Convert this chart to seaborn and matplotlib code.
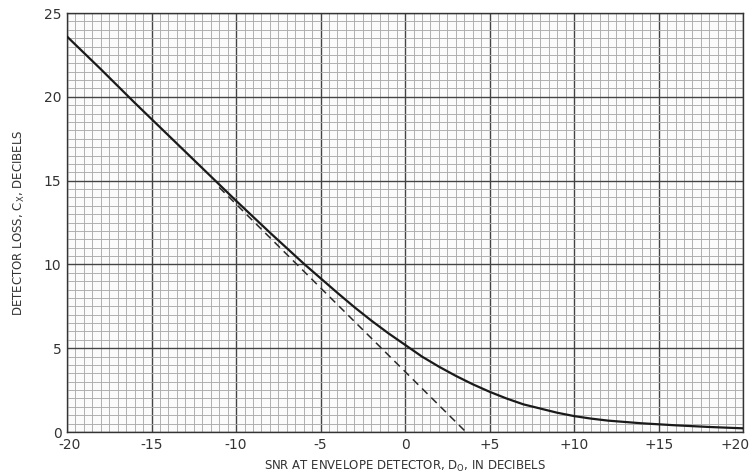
import matplotlib
matplotlib.use("Agg")
import matplotlib.pyplot as plt
import matplotlib.transforms as mtransforms
import seaborn as sns
import pandas as pd
from matplotlib.ticker import MultipleLocator

# Values
snr_db = [-20, -18, -16, -14, -12, -10, -8, -6, -4, -3, -2, -1, 0, 1, 2, 3, 4, 5,
          6, 7, 8, 9, 10, 11, 12, 13, 14, 15, 16, 18, 20]
loss_db = [23.6, 21.65, 19.65, 17.7, 15.75, 13.8, 11.9, 10.05, 8.3, 7.45, 6.65, 5.9,
           5.2, 4.5, 3.9, 3.35, 2.85, 2.4, 2.0, 1.65, 1.4, 1.15, 0.95, 0.8, 0.68,
           0.6, 0.52, 0.46, 0.4, 0.3, 0.22]
asym_snr = [-11.0, 3.6]
asym_loss = [14.6, 0.0]

x_ticks = [-20, -15, -10, -5, 0, 5, 10, 15, 20]
x_labels = ["-20", "-15", "-10", "-5", "0", "+5", "+10", "+15", "+20"]
y_ticks = [0, 5, 10, 15, 20, 25]
y_labels = ["0", "5", "10", "15", "20", "25"]

sns.set_theme(style="white")
plt.rcParams['font.family'] = ['DejaVu Sans']

fig = plt.figure(figsize=(7.53, 4.75), dpi=100)
ax = fig.add_axes([0.089, 0.0905, 0.898, 0.882])

df = pd.DataFrame({"snr": snr_db, "loss": loss_db})
dfa = pd.DataFrame({"snr": asym_snr, "loss": asym_loss})
sns.lineplot(data=df, x="snr", y="loss", ax=ax, color="#1a1a1a", linewidth=1.6, zorder=5)
sns.lineplot(data=dfa, x="snr", y="loss", ax=ax, color="#2a2a2a", linewidth=1.1,
             linestyle=(0, (5, 3.5)), zorder=5)

ax.set_xlim(-20, 20)
ax.set_ylim(0, 25)
ax.set_xticks(x_ticks)
ax.set_xticklabels(x_labels)
ax.set_yticks(y_ticks)
ax.set_yticklabels(y_labels)
ax.xaxis.set_minor_locator(MultipleLocator(0.5))
ax.yaxis.set_minor_locator(MultipleLocator(0.5))
ax.grid(which="major", color="#444444", linewidth=1.0)
ax.grid(which="minor", color="#ababab", linewidth=0.65)
ax.set_axisbelow(True)
for s in ax.spines.values():
    s.set_color("#333333")
    s.set_linewidth(1.0)
ax.tick_params(axis="both", which="both", length=0, labelsize=10, colors="#333333", pad=4)

# Nudge the end tick labels as in the reference
xl = ax.get_xticklabels()
xl[0].set_transform(xl[0].get_transform() + mtransforms.ScaledTranslation(3 / 100, 0, fig.dpi_scale_trans))
xl[-1].set_transform(xl[-1].get_transform() + mtransforms.ScaledTranslation(-8 / 100, 0, fig.dpi_scale_trans))

ax.set_xlabel("SNR AT ENVELOPE DETECTOR, D$_\\mathregular{O}$, IN DECIBELS", fontsize=8.5,
              color="#333333", labelpad=5)
ax.set_ylabel("DETECTOR LOSS, C$_\\mathregular{X}$, DECIBELS", fontsize=8.5,
              color="#333333", labelpad=12)
ax.set_facecolor("#fbfbfb")
fig.patch.set_facecolor("white")

fig.savefig("out.png", dpi=100)
